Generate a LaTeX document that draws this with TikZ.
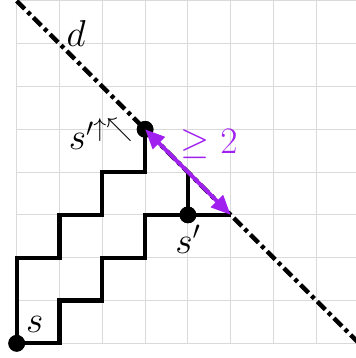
\documentclass[tikz,border=0pt]{standalone}
\usepackage{amssymb}
\usetikzlibrary{arrows.meta}
\definecolor{argpurple}{RGB}{160,32,240}
\definecolor{gridgray}{RGB}{218,218,218}
\begin{document}
\begin{tikzpicture}[
  x=1cm, y=1cm,
  gridline/.style={draw=gridgray, line width=0.6pt},
  stair/.style={draw=black, line width=2.9pt, line join=miter},
  dline/.style={draw=black, line width=2.9pt, dash pattern=on 7.5pt off 2.8pt on 2.6pt off 2.8pt},
  dotnode/.style={circle, fill=black, inner sep=0pt, minimum size=0.39cm},
  lbl/.style={inner sep=0pt, font=\fontsize{25}{30}\selectfont},
  gap/.style={draw=argpurple, line width=2.6pt, {Triangle[length=13pt,width=11pt]}-{Triangle[length=13pt,width=11pt]}}
]
\useasboundingbox (-0.39,-0.343) rectangle (7.904,8.021);
\draw[gridline] (0,0) grid (8,8);
\coordinate (dtop) at (0,8);
\coordinate (dbot) at (8,0);
\draw[dline] (dtop) -- (dbot);
\coordinate (e) at (5,3);
\coordinate (f) at (4,4);
\node[dotnode] (s) at (0,0) {};
\node[dotnode] (t) at (3,5) {};
\node[dotnode] (u) at (4,3) {};
\draw[stair] (s.center) -- ++(0,2) -- ++(1,0) -- ++(0,1) -- ++(1,0) -- ++(0,1) -- ++(1,0) -- (t.center);
\draw[stair] (s.center) -- ++(1,0) -- ++(0,1) -- ++(1,0) -- ++(0,1) -- ++(1,0) -- ++(0,1) -- (e);
\draw[stair] (u.center) -- (f);
\node[dotnode] at (s) {};
\node[dotnode] at (t) {};
\node[dotnode] at (u) {};
\draw[gap] (t.center) -- (e);
\node[lbl] (dlab) at (1.39,7.23) {$d$};
\node[lbl] (slab) at (0.42,0.43) {$s$};
\node[lbl] (ulab) at (4.0,2.43) {$s'$};
\node[lbl] (tlab) at (1.97,4.89) {$s'^{\uparrow\nwarrow}$};
\node[lbl, text=argpurple] (glab) at (4.5,4.65) {$\geq 2$};
\end{tikzpicture}
\end{document}
